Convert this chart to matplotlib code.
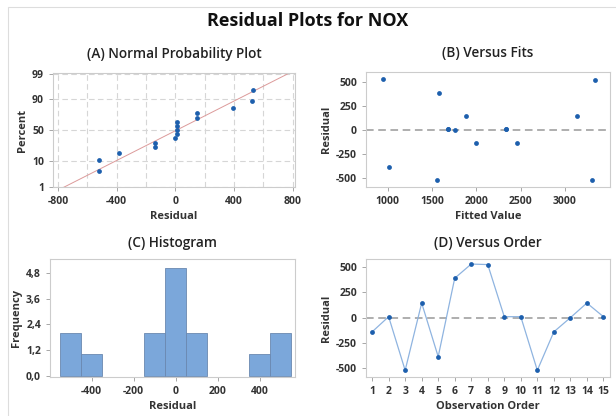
from statistics import NormalDist

import numpy as np
import matplotlib
matplotlib.use("Agg")
import matplotlib.pyplot as plt
from matplotlib.patches import Rectangle

plt.rcParams['font.family'] = ['Open Sans', 'DejaVu Sans']
plt.rcParams['axes.unicode_minus'] = False

# residuals in observation order
order = list(range(1, 16))
residuals = [-140, 10, -520, 145, -385, 390, 530, 525, 10, 10, -520, -140, 0, 145, 10]
fitted = [2000, 1680, 1560, 1880, 1020, 1580, 950, 3340, 2340, 1680, 3310, 2460, 1760, 3140, 2340]

# histogram bins (width 100)
hist_edges = [-550, -450, -350, -250, -150, -50, 50, 150, 250, 350, 450, 550]
freq_ticks = [0.0, 1.2, 2.4, 3.6, 4.8]
freq_labels = ["0,0", "1,2", "2,4", "3,6", "4,8"]
pct_ticks = [1, 10, 50, 90, 99]

DOT = "#1d5fad"
SPINE = "#cccccc"
W, H = 616, 416

fig = plt.figure(figsize=(W / 100, H / 100), dpi=100)
fig.patches.append(Rectangle((8 / W, -0.01), 1, 1.01 - 7 / H, transform=fig.transFigure,
                             fill=False, edgecolor="#dddddd", lw=0.8))


def make_ax(l, t, r, b):
    ax = fig.add_axes([l / W, 1 - b / H, (r - l) / W, (b - t) / H])
    for s in ax.spines.values():
        s.set_color(SPINE)
    ax.tick_params(colors="#999999", labelcolor="#333333", length=3, width=0.6,
                   labelsize=7.5)
    return ax


def style_labels(ax, title, xlabel, ylabel, pad=9):
    ax.set_title(title, fontsize=9.8, fontweight="semibold", color="#222222", pad=pad)
    ax.set_xlabel(xlabel, fontsize=8, fontweight="bold", color="#333333", labelpad=3)
    ax.set_ylabel(ylabel, fontsize=8, fontweight="bold", color="#333333", labelpad=3)
    for lab in ax.get_xticklabels() + ax.get_yticklabels():
        lab.set_fontweight("bold")


fig.text(308 / W, 1 - 21 / H, "Residual Plots for NOX", ha="center", va="center",
         fontsize=13, fontweight="bold", color="#111111")

# (A) Normal probability plot
nd = NormalDist()
n = len(residuals)
srt = np.sort(residuals)
pct = [(i + 1 - 0.3) / (n + 0.4) for i in range(n)]
z = [nd.inv_cdf(p) for p in pct]
mu = np.mean(residuals)
sd = np.std(residuals, ddof=1)

axA = make_ax(53, 73, 295, 187)
xs = np.array([-900, 900])
axA.plot(xs, (xs - mu) / sd, color="#dc9a9a", lw=0.7, zorder=2)
axA.scatter(srt, z, s=12, color=DOT, zorder=3, linewidths=0)
axA.set_xlim(-835, 815)
axA.set_ylim(nd.inv_cdf(0.01) - 0.02, nd.inv_cdf(0.99) + 0.05)
axA.set_xticks([-800, -400, 0, 400, 800])
axA.set_xticks(np.arange(-800, 801, 200), minor=True)
axA.set_yticks([nd.inv_cdf(p / 100) for p in pct_ticks])
axA.set_yticklabels([str(p) for p in pct_ticks])
axA.tick_params(which="minor", length=0)
axA.grid(True, which="both", ls=(0, (5, 3)), color="#d6d6d6", lw=0.8)
axA.set_axisbelow(True)
style_labels(axA, "(A) Normal Probability Plot", "Residual", "Percent", pad=11)

# (B) Versus fits
axB = make_ax(366, 72, 610, 187)
axB.axhline(0, color="#999999", ls=(0, (5, 3)), lw=1.1, zorder=1)
axB.scatter(fitted, residuals, s=12, color=DOT, zorder=3, linewidths=0)
axB.set_xlim(755, 3510)
axB.set_ylim(-595, 605)
axB.set_xticks([1000, 1500, 2000, 2500, 3000])
axB.set_yticks([-500, -250, 0, 250, 500])
style_labels(axB, "(B) Versus Fits", "Fitted Value", "Residual", pad=11)

# (C) Histogram
axC = make_ax(50, 259, 295, 377)
counts, _, bars = axC.hist(residuals, bins=hist_edges, color="#7ba7da",
                           edgecolor="#6a88b0", lw=0.6)
for c, b in zip(counts, bars):
    if c == 0:
        b.set_visible(False)
axC.set_xlim(-598, 568)
axC.set_ylim(-0.05, 5.44)
axC.set_xticks([-400, -200, 0, 200, 400])
axC.set_yticks(freq_ticks)
axC.set_yticklabels(freq_labels)
style_labels(axC, "(C) Histogram", "Residual", "Frequency")

# (D) Versus order
axD = make_ax(366, 259, 610, 377)
axD.axhline(0, color="#999999", ls=(0, (5, 3)), lw=1.1, zorder=1)
axD.plot(order, residuals, color="#8fb4e0", lw=0.9, zorder=2)
axD.scatter(order, residuals, s=12, color=DOT, zorder=3, linewidths=0)
axD.set_xlim(0.63, 15.4)
axD.set_ylim(-586, 580)
axD.set_xticks(order)
axD.set_yticks([-500, -250, 0, 250, 500])
style_labels(axD, "(D) Versus Order", "Observation Order", "Residual")

fig.savefig("out.png", dpi=100)
